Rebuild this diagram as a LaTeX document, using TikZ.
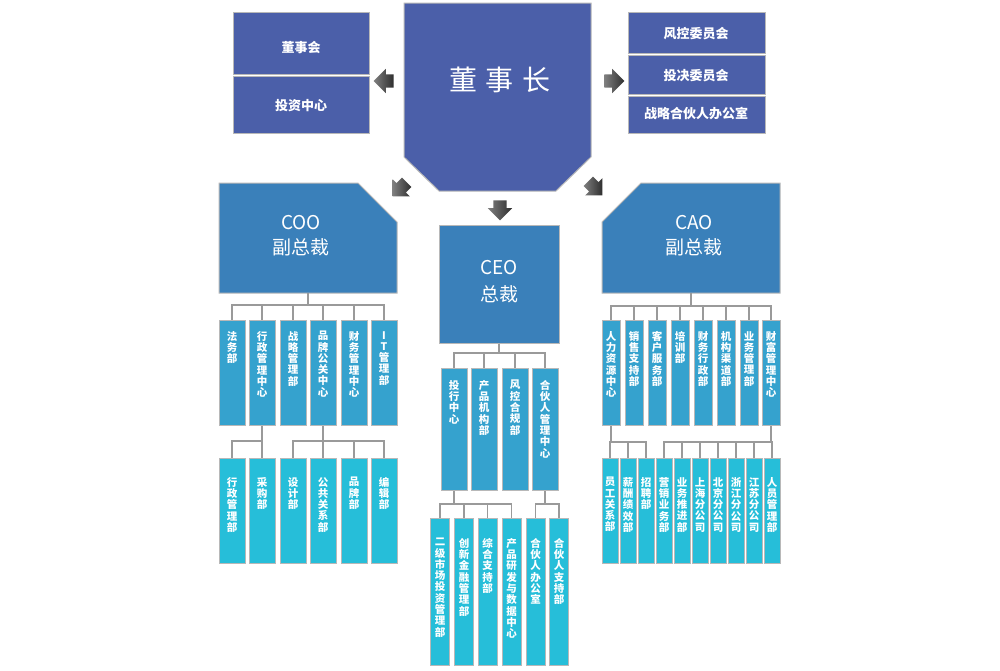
\documentclass[tikz,border=0pt]{standalone}
\usepackage{fontspec}
\setmainfont{Noto Sans CJK SC}
\usetikzlibrary{shapes.arrows}
\definecolor{topc}{HTML}{4B5FA9}
\definecolor{vpc}{HTML}{3A80BA}
\definecolor{r1c}{HTML}{35A2CE}
\definecolor{r2c}{HTML}{26BED9}
\definecolor{lineg}{HTML}{9A9A9A}
\definecolor{rimc}{HTML}{B8B8B8}
\tikzset{
  conn/.style={draw=lineg, line width=1.8pt},
  rim/.style={draw=rimc, line width=1pt},
  topbox/.style={rim, fill=topc, inner sep=0pt, minimum width=136pt},
  toptext/.style={text=white, font=\bfseries\fontsize{13}{15}\selectfont, inner sep=0pt},
  vpfill/.style={rim, fill=vpc},
  inv/.style={inner sep=0pt, draw=none},
  vptext/.style={text=white, font=\fontsize{19}{25}\selectfont, align=center, inner sep=0pt},
  r1box/.style={rim, fill=r1c, inner sep=0pt},
  r2box/.style={rim, fill=r2c, inner sep=0pt},
  vt/.style={text=white, font=\bfseries\fontsize{10.5}{11.3}\selectfont, align=center, inner sep=0pt},
  blk/.style={single arrow, draw=none, inner xsep=0pt, inner ysep=6.5pt, minimum height=20pt,
    single arrow head extend=5.5pt, left color=black!50, right color=black!82}
}
% name, style, cx, top, w, h, offset, text
\newcommand\vbx[8]{%
  \node[#2, minimum width=#5pt, minimum height=#6pt, anchor=north] (#1) at (#3,#4) {};
  \node[vt, anchor=north] (#1t) at ([yshift=-#7pt]#1.north) {#8};}
\begin{document}
\begin{tikzpicture}[x=1pt, y=-1pt]
\useasboundingbox (0,0) rectangle (1000,670);
\fill[white] (0,0) rectangle (1000,670);

% ---- chairman ----
\path[rim, fill=topc] (404,3) -- (591,3) -- (591,157) -- (556,191) -- (439,191) -- (404,157) -- cycle;
\node[inv, minimum width=187pt, minimum height=188pt] (chair) at (497.5,97) {};
\node[text=white, inner sep=0pt, font=\fontsize{28}{30}\selectfont] (chairT) at (500,80) {董\hspace{9pt}事\hspace{9pt}长};

% left group
\node[topbox, minimum height=62pt] (g1) at (301,43) {};
\node[topbox, minimum height=57pt] (g2) at (301,104.5) {};
\node[toptext] (g1t) at (301,48) {董事会};
\node[toptext] (g2t) at (301,106) {投资中心};
% right group
\node[topbox, minimum width=137pt, minimum height=41pt] (h1) at (696.5,32.5) {};
\node[topbox, minimum width=137pt, minimum height=39pt] (h2) at (696.5,74.5) {};
\node[topbox, minimum width=137pt, minimum height=37pt] (h3) at (696.5,114.5) {};
\node[toptext] (h1t) at (696,33.5) {风控委员会};
\node[toptext] (h2t) at (696,75.5) {投决委员会};
\node[toptext] (h3t) at (696,114) {战略合伙人办公室};

% block arrows
\node[blk, rotate=180] (arL) at (387,81) {};
\node[blk] (arR) at (611,81) {};
\node[blk, rotate=-90] (arD) at (500,207) {};
\node[blk, rotate=-135] (arDL) at (402,187) {};
\node[blk, rotate=-45] (arDR) at (593,186) {};

% ---- VP boxes ----
\path[vpfill] (219,183) -- (358,183) -- (397,222) -- (397,293) -- (219,293) -- cycle;
\node[inv, minimum width=178pt, minimum height=110pt] (coo) at (308,238) {};
\node[vptext] (cooT) at (301,235.5) {COO\\副总裁};

\node[vpfill, inner sep=0pt, minimum width=120pt, minimum height=118pt] (ceo) at (499,284) {};
\node[vptext] (ceoT) at (499,281.5) {CEO\\[2pt]总裁};

\path[vpfill] (641,183) -- (780,183) -- (780,293) -- (602,293) -- (602,222) -- cycle;
\node[inv, minimum width=178pt, minimum height=110pt] (cao) at (691,238) {};
\node[vptext] (caoT) at (694,236) {CAO\\副总裁};

% ---- COO row 1 ----
\vbx{a1}{r1box}{232}{320}{26}{105}{11}{法\\务\\部}
\vbx{a2}{r1box}{262}{320}{26}{105}{11}{行\\政\\管\\理\\中\\心}
\vbx{a3}{r1box}{293}{320}{26}{105}{11}{战\\略\\管\\理\\部}
\vbx{a4}{r1box}{323}{320}{26}{105}{11}{品\\牌\\公\\关\\中\\心}
\vbx{a5}{r1box}{354}{320}{26}{105}{11}{财\\务\\管\\理\\中\\心}
\vbx{a6}{r1box}{384}{320}{26}{105}{11}{I\\T\\管\\理\\部}
% ---- COO row 2 ----
\vbx{b1}{r2box}{232}{458}{26}{105}{19}{行\\政\\管\\理\\部}
\vbx{b2}{r2box}{262}{458}{26}{105}{19}{采\\购\\部}
\vbx{b3}{r2box}{293}{458}{26}{105}{19}{设\\计\\部}
\vbx{b4}{r2box}{323}{458}{26}{105}{19}{公\\共\\关\\系\\部}
\vbx{b5}{r2box}{354}{458}{26}{105}{19}{品\\牌\\部}
\vbx{b6}{r2box}{384}{458}{26}{105}{19}{编\\辑\\部}

% ---- CEO row 1 ----
\vbx{c1}{r1box}{454}{368}{26}{122}{12}{投\\行\\中\\心}
\vbx{c2}{r1box}{484}{368}{26}{122}{12}{产\\品\\机\\构\\部}
\vbx{c3}{r1box}{515}{368}{26}{122}{12}{风\\控\\合\\规\\部}
\vbx{c4}{r1box}{545}{368}{26}{122}{12}{合\\伙\\人\\管\\理\\中\\心}
% ---- CEO row 2 ----
\vbx{d1}{r2box}{440}{518}{19}{147}{20}{二\\级\\市\\场\\投\\资\\管\\理\\部}
\vbx{d2}{r2box}{464}{518}{19}{147}{20}{创\\新\\金\\融\\管\\理\\部}
\vbx{d3}{r2box}{487.5}{518}{19}{147}{20}{综\\合\\支\\持\\部}
\vbx{d4}{r2box}{511.5}{518}{19}{147}{20}{产\\品\\研\\发\\与\\数\\据\\中\\心}
\vbx{d5}{r2box}{535.5}{518}{19}{147}{20}{合\\伙\\人\\办\\公\\室}
\vbx{d6}{r2box}{559}{518}{19}{147}{20}{合\\伙\\人\\支\\持\\部}

% ---- CAO row 1 ----
\vbx{e1}{r1box}{611}{320}{18}{105}{11}{人\\力\\资\\源\\中\\心}
\vbx{e2}{r1box}{634}{320}{18}{105}{11}{销\\售\\支\\持\\部}
\vbx{e3}{r1box}{657}{320}{18}{105}{11}{客\\户\\服\\务\\部}
\vbx{e4}{r1box}{680}{320}{18}{105}{11}{培\\训\\部}
\vbx{e5}{r1box}{703}{320}{18}{105}{11}{财\\务\\行\\政\\部}
\vbx{e6}{r1box}{726}{320}{18}{105}{11}{机\\构\\渠\\道\\部}
\vbx{e7}{r1box}{749}{320}{18}{105}{11}{业\\务\\管\\理\\部}
\vbx{e8}{r1box}{771}{320}{18}{105}{11}{财\\富\\管\\理\\中\\心}
% ---- CAO row 2 ----
\vbx{f1}{r2box}{610}{458}{16}{105}{19}{员\\工\\关\\系\\部}
\vbx{f2}{r2box}{628}{458}{16}{105}{19}{薪\\酬\\绩\\效\\部}
\vbx{f3}{r2box}{646}{458}{16}{105}{19}{招\\聘\\部}
\vbx{f4}{r2box}{664}{458}{16}{105}{19}{营\\销\\业\\务\\部}
\vbx{f5}{r2box}{682}{458}{16}{105}{19}{业\\务\\推\\进\\部}
\vbx{f6}{r2box}{700}{458}{16}{105}{19}{上\\海\\分\\公\\司}
\vbx{f7}{r2box}{718}{458}{16}{105}{19}{北\\京\\分\\公\\司}
\vbx{f8}{r2box}{736}{458}{16}{105}{19}{浙\\江\\分\\公\\司}
\vbx{f9}{r2box}{754}{458}{16}{105}{19}{江\\苏\\分\\公\\司}
\vbx{f10}{r2box}{772}{458}{16}{105}{19}{人\\员\\管\\理\\部}

% ---- connectors ----
\foreach \c in {a1,a2,a3,a4,a5,a6}
  \draw[conn] (coo.south) -- (coo.south |- 0,305) -| (\c.north);
\foreach \c in {b1,b2}
  \draw[conn] (a2.south) -- (a2.south |- 0,441) -| (\c.north);
\foreach \c in {b3,b4,b5,b6}
  \draw[conn] (a4.south) -- (a4.south |- 0,441) -| (\c.north);
\foreach \c in {c1,c2,c3,c4}
  \draw[conn] (ceo.south) -- (ceo.south |- 0,353) -| (\c.north);
\foreach \c in {d1,d2,d3,d4}
  \draw[conn] (c1.south) -- (c1.south |- 0,504) -| (\c.north);
\foreach \c in {d5,d6}
  \draw[conn] (c4.south) -- (c4.south |- 0,504) -| (\c.north);
\foreach \c in {e1,e2,e3,e4,e5,e6,e7,e8}
  \draw[conn] (cao.south) -- (cao.south |- 0,306) -| (\c.north);
\foreach \c in {f1,f2,f3}
  \draw[conn] (e1.south) -- (e1.south |- 0,442) -| (\c.north);
\foreach \c in {f4,f5,f6,f7,f8,f9,f10}
  \draw[conn] (e8.south) -- (e8.south |- 0,442) -| (\c.north);
\end{tikzpicture}
\end{document}
